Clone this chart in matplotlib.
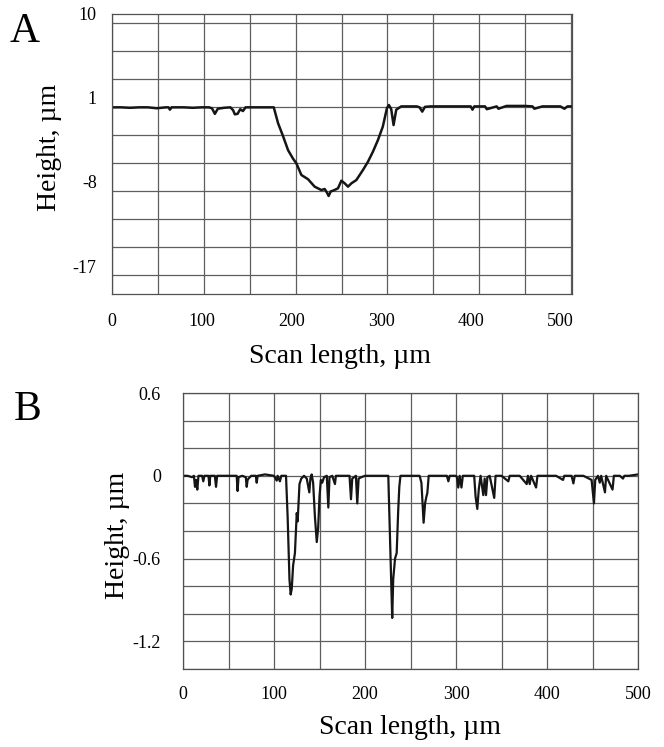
import matplotlib
matplotlib.use("Agg")
import matplotlib.pyplot as plt
from matplotlib.ticker import MultipleLocator, FixedLocator

# ---------------- data ----------------
# Panel A: profile across a wear groove (x in um, height in um)
a_x = [0, 10, 20, 30, 40, 50, 60, 63, 64.6, 66.5, 70, 80, 90, 100, 108, 111.5, 114.7,
       118, 125, 132, 135, 137, 140, 143, 146, 149, 155, 165, 175, 180.4, 185.2,
       190.8, 196.4, 201.9, 205.6, 211.2, 218.6, 226, 233.5, 237.2, 239.5, 241.6,
       244, 246.5, 252, 255.8, 259.5, 263.2, 267, 272.5, 279.9, 285.5, 291, 296.6,
       302, 306.6, 308.8, 311.4, 314, 317, 322.6, 330, 340, 343, 346, 349, 355, 370,
       390, 400, 402, 404, 416, 418, 429, 431, 440, 460, 469, 471, 480, 490, 500,
       504.5, 508, 512]
a_y = [0.0, 0.0, -0.05, 0.0, 0.0, -0.1, 0.0, 0.0, -0.25, 0.0, 0.0, 0.0, -0.05, 0.0,
       0.0, -0.1, -0.7, -0.15, -0.05, 0.0, -0.3, -0.75, -0.7, -0.2, -0.4, 0.0, 0.0,
       0.0, 0.0, 0.0, -1.7, -3.1, -4.6, -5.5, -6.0, -7.25, -7.7, -8.5, -8.86, -8.75,
       -9.1, -9.5, -9.0, -8.93, -8.68, -7.86, -8.14, -8.5, -8.14, -7.79, -6.71, -5.82,
       -4.75, -3.5, -2.07, -0.1, 0.25, -0.2, -1.9, -0.25, 0.1, 0.1, 0.1, 0.0, -0.46,
       0.05, 0.1, 0.1, 0.1, 0.1, -0.25, 0.1, 0.1, -0.2, 0.1, -0.15, 0.15, 0.15, 0.1,
       -0.15, 0.1, 0.1, 0.1, -0.15, 0.1, 0.1]

# Panel B: profile of a polished surface (x in um, height in um)
b_x = [0, 5, 10, 12, 13.2, 14.5, 15.7, 17, 21, 22.3, 23.5, 28, 29, 30, 35, 36.3, 37.5,
       45, 50, 59, 60, 61, 65, 69, 70, 71, 72, 75, 80, 81, 82, 90, 100, 103, 104,
       106.5, 108, 113.2, 115, 117, 118.3, 119.5, 121, 123, 124, 125, 126, 127, 128,
       130, 133, 136, 138.8, 140, 141.4, 143, 145, 147, 148.5, 150, 151.5, 153, 155,
       158, 159.7, 161, 164, 167, 168, 175, 180, 183, 184.6, 186, 190, 191.5, 193,
       196, 200, 210, 220, 225.6, 227.5, 229.9, 231, 233, 234.8, 236.5, 237.7, 239,
       245, 250, 260, 262, 264.4, 266, 267.5, 268.5, 270, 280, 290, 291.6, 293, 300,
       301, 302.5, 304, 306, 307.5, 315, 320, 321.5, 323.4, 325, 327, 330, 331.5,
       333, 334.5, 337, 342, 343.5, 350, 357.5, 359, 370, 377.7, 379, 381, 382.5,
       388, 389.5, 400, 410, 417.6, 419, 427, 429, 430.5, 440, 449, 451.6, 453, 456,
       458, 459.5, 463.7, 465, 472, 473.5, 480, 483.5, 485, 490, 500]
b_y = [0.0, 0.0, -0.01, 0.0, -0.08, -0.03, -0.10, 0.0, 0.0, -0.04, 0.0, 0.0, -0.07,
       0.0, 0.0, -0.08, 0.0, 0.0, 0.0, 0.0, -0.11, -0.01, 0.0, -0.01, -0.08, -0.03,
       -0.02, 0.0, 0.0, -0.05, 0.0, 0.01, 0.0, -0.035, 0.0, -0.04, 0.0, 0.0, -0.3,
       -0.75, -0.86, -0.82, -0.65, -0.56, -0.42, -0.27, -0.33, -0.2, -0.06, -0.02,
       0.0, -0.02, -0.12, -0.02, 0.01, -0.05, -0.3, -0.48, -0.38, -0.15, -0.03, -0.05,
       -0.01, 0.0, -0.23, -0.01, 0.0, -0.06, 0.0, 0.0, 0.0, 0.0, -0.17, -0.02, 0.0,
       -0.2, -0.02, -0.01, 0.0, 0.0, 0.0, 0.0, -0.45, -1.03, -0.75, -0.6, -0.56,
       -0.25, -0.08, 0.0, 0.0, 0.0, 0.0, -0.05, -0.34, -0.2, -0.15, -0.125, 0.0, 0.0,
       0.0, -0.04, 0.0, 0.0, -0.01, -0.085, 0.0, -0.085, 0.0, 0.0, 0.0, -0.15, -0.24,
       -0.1, 0.0, -0.14, -0.02, -0.14, -0.01, 0.0, -0.16, 0.0, 0.0, -0.04, 0.0, 0.0,
       -0.06, 0.0, -0.06, 0.0, -0.085, 0.0, 0.0, 0.0, -0.03, 0.0, 0.0, -0.055, 0.0,
       0.0, -0.03, -0.20, -0.03, 0.0, -0.05, 0.0, -0.12, 0.0, -0.10, 0.0, 0.0, -0.02,
       0.0, 0.0, 0.01]

a_xticks = [0, 100, 200, 300, 400, 500]
a_yticks = [10, 1, -8, -17]
b_xticks = [0, 100, 200, 300, 400, 500]
b_yticks = [0.6, 0, -0.6, -1.2]
b_ytick_labels = ["0.6", "0", "-0.6", "-1.2"]

# ---------------- style ----------------
plt.rcParams["font.family"] = ["Liberation Serif", "DejaVu Serif"]
plt.rcParams["axes.unicode_minus"] = False
W, H = 664, 747
fig = plt.figure(figsize=(W / 100, H / 100), dpi=100)

grid_kw = dict(color="#5e5e5e", linewidth=0.9)
line_col = "#151515"


def px(x0, y0, x1, y1):
    return [x0 / W, 1 - y1 / H, (x1 - x0) / W, (y1 - y0) / H]


def style_axes(ax):
    for s in ax.spines.values():
        s.set_color("#505050")
        s.set_linewidth(0.9)
    ax.xaxis.remove_overlapping_locs = False
    ax.yaxis.remove_overlapping_locs = False
    ax.tick_params(which="both", length=0, labelsize=13)
    ax.grid(which="minor", **grid_kw)
    ax.grid(which="major", visible=False)
    ax.set_axisbelow(True)


# Panel A
axA = fig.add_axes(px(112, 14, 572, 294))
axA.plot(a_x, a_y, color=line_col, linewidth=1.8)
axA.set_xlim(0, 513)
axA.set_ylim(-20, 10)
axA.xaxis.set_minor_locator(FixedLocator([51.2 * i for i in range(11)]))
axA.yaxis.set_minor_locator(MultipleLocator(3))
axA.set_xticks(a_xticks)
axA.set_yticks(a_yticks)
style_axes(axA)
axA.tick_params(axis="x", pad=14)
axA.tick_params(axis="y", pad=11)

# Panel B
axB = fig.add_axes(px(183, 393, 638, 669))
axB.plot(b_x, b_y, color=line_col, linewidth=1.6)
axB.set_xlim(0, 500)
axB.set_ylim(-1.4, 0.6)
axB.xaxis.set_minor_locator(MultipleLocator(50))
axB.yaxis.set_minor_locator(MultipleLocator(0.2))
axB.set_xticks(b_xticks)
axB.set_yticks(b_yticks, labels=b_ytick_labels)
style_axes(axB)
axB.tick_params(axis="x", pad=12)
axB.tick_params(axis="y", pad=16)

# Labels
fig.text(25 / W, 1 - 32 / H, "A", fontsize=30, ha="center", va="center")
fig.text(28 / W, 1 - 410 / H, "B", fontsize=30, ha="center", va="center")
fig.text(50 / W, 1 - 147 / H, "Height, µm", fontsize=20, rotation=90,
         ha="center", va="center")
fig.text(118 / W, 1 - 535 / H, "Height, µm", fontsize=20, rotation=90,
         ha="center", va="center")
fig.text(340 / W, 1 - 357 / H, "Scan length, µm", fontsize=20,
         ha="center", va="center")
fig.text(410 / W, 1 - 727 / H, "Scan length, µm", fontsize=20,
         ha="center", va="center")

fig.savefig("out.png", dpi=100, facecolor="white")
